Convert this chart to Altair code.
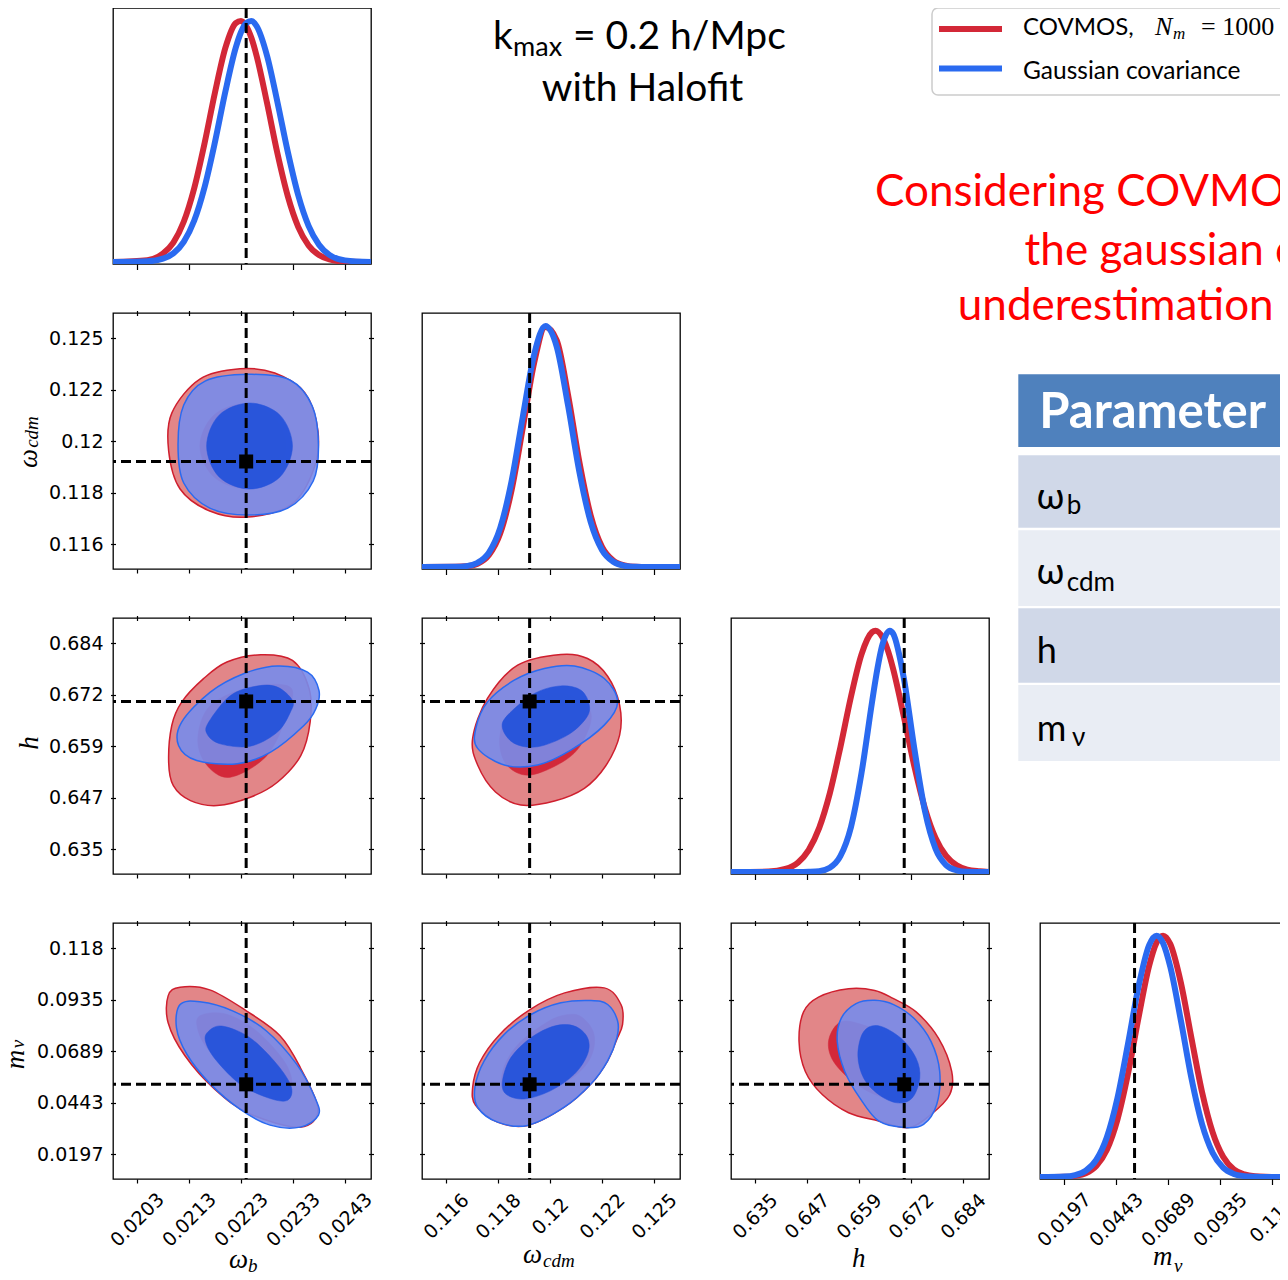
import altair as alt
import pandas as pd

# ---------------------------------------------------------------- axis ticks
TICKS_WB = [0.0203, 0.0213, 0.0223, 0.0233, 0.0243]
LABELS_WB = ["0.0203", "0.0213", "0.0223", "0.0233", "0.0243"]
TICKS_WCDM = [0.1156, 0.1179, 0.1202, 0.1225, 0.1248]
LABELS_WCDM = ["0.116", "0.118", "0.12", "0.122", "0.125"]
TICKS_H = [0.6348, 0.6471, 0.6594, 0.6717, 0.684]
LABELS_H = ["0.635", "0.647", "0.659", "0.672", "0.684"]
TICKS_MNU = [0.0197, 0.0443, 0.0689, 0.0935, 0.1181]
LABELS_MNU = ["0.0197", "0.0443", "0.0689", "0.0935", "0.118"]

# plotted ranges (horizontal use / vertical use)
XRANGE_WB = [0.01984, 0.0248]
XRANGE_WCDM = [0.11454, 0.12595]
XRANGE_H = [0.62914, 0.69015]
XRANGE_MNU = [0.00838, 0.1304]
YRANGE_WCDM = [0.1145, 0.12593]
YRANGE_H = [0.6289, 0.69003]
YRANGE_MNU = [0.00789, 0.13015]
YRANGE_1D = [-0.008, 1.0525]

# fiducial cosmology
FID_WB = 0.0224
FID_WCDM = 0.1193
FID_H = 0.6701
FID_MNU = 0.0531

# ---------------------------------------------------------------- 1D posteriors
WB_GRID = [0.01984, 0.0205, 0.0208, 0.0210, 0.0212, 0.0214, 0.0216, 0.0218, 0.0220, 0.0222, 0.0223, 0.0224,
           0.0225, 0.0226, 0.0228, 0.0230, 0.0232, 0.0234, 0.0236, 0.0238, 0.0240, 0.0243, 0.0248]
WB_COVMOS = [0, 0.008, 0.035, 0.081, 0.167, 0.305, 0.492, 0.702, 0.887, 0.990, 0.999, 0.978,
             0.929, 0.855, 0.660, 0.451, 0.273, 0.146, 0.069, 0.029, 0.011, 0.002, 0]
WB_GAUSS = [0, 0.003, 0.014, 0.036, 0.084, 0.171, 0.310, 0.497, 0.706, 0.888, 0.952, 0.990,
            0.999, 0.978, 0.856, 0.664, 0.457, 0.278, 0.150, 0.072, 0.030, 0.007, 0]

WCDM_GRID = [0.11454, 0.1160, 0.1165, 0.1170, 0.1175, 0.1180, 0.1185, 0.1190, 0.1195, 0.1200, 0.1205,
             0.1210, 0.1215, 0.1220, 0.1225, 0.1230, 0.1235, 0.1240, 0.1245, 0.12595]
WCDM_COVMOS = [0, 0.001, 0.003, 0.014, 0.050, 0.140, 0.318, 0.578, 0.846, 0.994, 0.939,
               0.713, 0.435, 0.214, 0.084, 0.027, 0.007, 0.001, 0, 0]
WCDM_GAUSS = [0, 0.001, 0.004, 0.018, 0.060, 0.162, 0.355, 0.624, 0.880, 0.999, 0.912,
              0.669, 0.394, 0.187, 0.071, 0.022, 0.005, 0.001, 0, 0]

H_GRID = [0.62914, 0.638, 0.642, 0.645, 0.6475, 0.650, 0.6525, 0.655, 0.6575, 0.660, 0.6625, 0.6633,
          0.665, 0.6667, 0.6675, 0.670, 0.6725, 0.675, 0.6775, 0.680, 0.6825, 0.685, 0.688, 0.69015]
H_COVMOS = [0, 0.002, 0.013, 0.040, 0.091, 0.183, 0.326, 0.517, 0.726, 0.902, 0.994, 1.0,
            0.971, 0.892, 0.840, 0.645, 0.438, 0.264, 0.141, 0.067, 0.028, 0.010, 0.003, 0]
H_GAUSS = [0, 0, 0, 0, 0.001, 0.004, 0.018, 0.066, 0.186, 0.410, 0.705, 0.795,
           0.945, 1.0, 0.987, 0.804, 0.511, 0.253, 0.097, 0.029, 0.007, 0.001, 0, 0]

MNU_GRID = [0.00838, 0.020, 0.025, 0.030, 0.035, 0.040, 0.045, 0.050, 0.055, 0.060, 0.0635, 0.0666,
            0.070, 0.075, 0.080, 0.085, 0.090, 0.095, 0.100, 0.105, 0.110, 0.115, 0.125, 0.1304]
MNU_COVMOS = [0, 0.001, 0.005, 0.016, 0.046, 0.113, 0.238, 0.428, 0.661, 0.875, 0.971, 1.0,
              0.965, 0.805, 0.576, 0.353, 0.186, 0.084, 0.032, 0.011, 0.003, 0.001, 0, 0]
MNU_GAUSS = [0, 0.002, 0.008, 0.026, 0.071, 0.165, 0.327, 0.552, 0.790, 0.961, 1.0, 0.969,
             0.871, 0.649, 0.410, 0.220, 0.101, 0.039, 0.013, 0.004, 0.001, 0, 0, 0]

# ---------------------------------------------------------------- 2D contours (68% / 95%)
# omega_b vs omega_cdm
WB_WCDM_RED95_X = [0.02228, 0.02295, 0.02353, 0.02378, 0.02370, 0.02328, 0.02243, 0.02170, 0.02113, 0.02091, 0.02097, 0.02151]
WB_WCDM_RED95_Y = [0.12344, 0.12325, 0.12236, 0.12066, 0.11896, 0.11740, 0.11682, 0.11709, 0.11807, 0.11977, 0.12146, 0.12298]
WB_WCDM_RED68_X = [0.02317, 0.02292, 0.02234, 0.02176, 0.02151, 0.02176, 0.02234, 0.02292]
WB_WCDM_RED68_Y = [0.11999, 0.12133, 0.12187, 0.12133, 0.11999, 0.11865, 0.11811, 0.11865]
WB_WCDM_BLUE95_X = [0.02379, 0.02367, 0.02324, 0.02244, 0.02161, 0.02120, 0.02109, 0.02120, 0.02170, 0.02244, 0.02320, 0.02369]
WB_WCDM_BLUE95_Y = [0.12005, 0.12178, 0.12294, 0.12319, 0.12289, 0.12182, 0.12005, 0.11834, 0.11722, 0.11691, 0.11722, 0.11843]
WB_WCDM_BLUE68_X = [0.02329, 0.02305, 0.02247, 0.02188, 0.02164, 0.02188, 0.02247, 0.02305]
WB_WCDM_BLUE68_Y = [0.11999, 0.12137, 0.12191, 0.12137, 0.11999, 0.11861, 0.11807, 0.11861]

# omega_b vs h
WB_H_RED95_X = [0.02268, 0.02329, 0.02361, 0.02363, 0.02345, 0.02300, 0.02248, 0.02184, 0.02133, 0.02100, 0.02091, 0.02097, 0.02116, 0.02158, 0.02203]
WB_H_RED95_Y = [0.68126, 0.67990, 0.67313, 0.66517, 0.65718, 0.65082, 0.64722, 0.64524, 0.64643, 0.65001, 0.65559, 0.66436, 0.66994, 0.67554, 0.67952]
WB_H_RED68_X = [0.02325, 0.02317, 0.02280, 0.02210, 0.02165, 0.02147, 0.02171, 0.02248]
WB_H_RED68_Y = [0.67351, 0.66660, 0.65718, 0.65201, 0.65480, 0.66119, 0.66915, 0.67351]
WB_H_BLUE95_X = [0.02380, 0.02358, 0.02300, 0.02235, 0.02171, 0.02116, 0.02110, 0.02145, 0.02223, 0.02287, 0.02351, 0.02374]
WB_H_BLUE95_Y = [0.67272, 0.67711, 0.67857, 0.67673, 0.67234, 0.66517, 0.65960, 0.65599, 0.65521, 0.65800, 0.66436, 0.66837]
WB_H_BLUE68_X = [0.02329, 0.02300, 0.02261, 0.02210, 0.02168, 0.02165, 0.02190, 0.02248, 0.02300, 0.02325]
WB_H_BLUE68_Y = [0.67035, 0.67353, 0.67378, 0.67153, 0.66517, 0.66231, 0.65998, 0.65942, 0.66278, 0.66755]

# omega_b vs m_nu
WB_MNU_RED95_X = [0.02113, 0.02170, 0.02241, 0.02305, 0.02344, 0.02378, 0.02344, 0.02247, 0.02180, 0.02122, 0.02090, 0.02090]
WB_MNU_RED95_Y = [0.09948, 0.09820, 0.08809, 0.07635, 0.06115, 0.04123, 0.03266, 0.03899, 0.05072, 0.06686, 0.08253, 0.09535]
WB_MNU_RED68_X = [0.02151, 0.02199, 0.02257, 0.02311, 0.02328, 0.02309, 0.02267, 0.02213, 0.02167, 0.02147]
WB_MNU_RED68_Y = [0.08585, 0.08681, 0.07921, 0.06496, 0.05404, 0.04929, 0.05166, 0.05879, 0.06971, 0.07921]
WB_MNU_BLUE95_X = [0.02113, 0.02151, 0.02215, 0.02279, 0.02337, 0.02372, 0.02379, 0.02344, 0.02286, 0.02228, 0.02170, 0.02126, 0.02106]
WB_MNU_BLUE95_Y = [0.09121, 0.09249, 0.08809, 0.07859, 0.06273, 0.04691, 0.03837, 0.03266, 0.03362, 0.04123, 0.05355, 0.06747, 0.08017]
WB_MNU_BLUE68_X = [0.02165, 0.02193, 0.02247, 0.02299, 0.02327, 0.02318, 0.02279, 0.02228, 0.02183, 0.02163]
WB_MNU_BLUE68_Y = [0.07778, 0.08095, 0.07539, 0.06273, 0.05166, 0.04533, 0.04691, 0.05323, 0.06435, 0.07257]

# omega_cdm vs h
WCDM_H_RED95_X = [0.12068, 0.12186, 0.12275, 0.12328, 0.12328, 0.12266, 0.12172, 0.12040, 0.11891, 0.11779, 0.11700, 0.11678, 0.11744, 0.11877]
WCDM_H_RED95_Y = [0.68131, 0.68035, 0.67613, 0.66922, 0.66207, 0.65468, 0.64936, 0.64634, 0.64538, 0.64848, 0.65492, 0.66135, 0.67089, 0.67876]
WCDM_H_RED68_X = [0.12200, 0.12169, 0.12089, 0.11934, 0.11833, 0.11797, 0.11833, 0.11952, 0.12098]
WCDM_H_RED68_Y = [0.66755, 0.66088, 0.65611, 0.65253, 0.65468, 0.66040, 0.66684, 0.67112, 0.67185]
WCDM_H_BLUE95_X = [0.12319, 0.12260, 0.12128, 0.11995, 0.11862, 0.11744, 0.11692, 0.11700, 0.11818, 0.11965, 0.12112, 0.12260]
WCDM_H_BLUE95_Y = [0.67000, 0.67559, 0.67857, 0.67797, 0.67518, 0.67000, 0.66367, 0.65890, 0.65492, 0.65492, 0.65849, 0.66445]
WCDM_H_BLUE68_X = [0.12194, 0.12157, 0.12068, 0.11951, 0.11833, 0.11810, 0.11862, 0.11965, 0.12098, 0.12179]
WCDM_H_BLUE68_Y = [0.66922, 0.67280, 0.67382, 0.67201, 0.66684, 0.66367, 0.66009, 0.65928, 0.66207, 0.66605]

# omega_cdm vs m_nu
WCDM_MNU_RED95_X = [0.12260, 0.12334, 0.12341, 0.12315, 0.12275, 0.12201, 0.12083, 0.11921, 0.11788, 0.11691, 0.11678, 0.11709, 0.11797, 0.11930, 0.12085]
WCDM_MNU_RED95_Y = [0.09916, 0.09122, 0.08172, 0.07446, 0.06435, 0.05323, 0.04216, 0.03348, 0.03505, 0.04312, 0.05166, 0.06354, 0.07682, 0.08870, 0.09677]
WCDM_MNU_RED68_X = [0.12151, 0.12213, 0.12204, 0.12133, 0.12009, 0.11886, 0.11810, 0.11819, 0.11886, 0.11996, 0.12071]
WCDM_MNU_RED68_Y = [0.08585, 0.07778, 0.06686, 0.05736, 0.05024, 0.04786, 0.05166, 0.06211, 0.07303, 0.08206, 0.08585]
WCDM_MNU_BLUE95_X = [0.12201, 0.12275, 0.12319, 0.12316, 0.12275, 0.12201, 0.12083, 0.11921, 0.11788, 0.11700, 0.11688, 0.11729, 0.11818, 0.11936, 0.12068]
WCDM_MNU_BLUE95_Y = [0.09313, 0.09122, 0.08334, 0.07539, 0.06435, 0.05323, 0.04216, 0.03348, 0.03505, 0.04216, 0.05166, 0.06435, 0.07697, 0.08646, 0.09202]
WCDM_MNU_BLUE68_X = [0.12128, 0.12186, 0.12186, 0.12128, 0.12024, 0.11906, 0.11825, 0.11810, 0.11847, 0.11936, 0.12039]
WCDM_MNU_BLUE68_Y = [0.08095, 0.07539, 0.06747, 0.05798, 0.05011, 0.04610, 0.04848, 0.05485, 0.06590, 0.07539, 0.08095]

# h vs m_nu
H_MNU_RED95_X = [0.65694, 0.66314, 0.66759, 0.67291, 0.67823, 0.68133, 0.68088, 0.67646, 0.67113, 0.66404, 0.65694, 0.65072, 0.64672, 0.64523, 0.64630, 0.64984]
H_MNU_RED95_Y = [0.09877, 0.09796, 0.09402, 0.08771, 0.07507, 0.05926, 0.04824, 0.03874, 0.03243, 0.03561, 0.03955, 0.04824, 0.05926, 0.07351, 0.08771, 0.09478]
H_MNU_RED68_X = [0.65517, 0.66049, 0.66759, 0.67201, 0.67291, 0.66936, 0.66314, 0.65694, 0.65294, 0.65233]
H_MNU_RED68_Y = [0.08296, 0.08139, 0.07507, 0.06401, 0.05294, 0.04663, 0.04824, 0.05613, 0.06558, 0.07507]
H_MNU_BLUE95_X = [0.66314, 0.66759, 0.67246, 0.67646, 0.67849, 0.67778, 0.67468, 0.67023, 0.66404, 0.65959, 0.65604, 0.65427, 0.65517, 0.65871]
H_MNU_BLUE95_Y = [0.09322, 0.09117, 0.08452, 0.07351, 0.05926, 0.04349, 0.03399, 0.03243, 0.03561, 0.04663, 0.05926, 0.07351, 0.08452, 0.09165]
H_MNU_BLUE68_X = [0.66404, 0.66936, 0.67291, 0.67378, 0.67201, 0.66846, 0.66404, 0.66049, 0.65914, 0.66049]
H_MNU_BLUE68_Y = [0.08106, 0.07507, 0.06558, 0.05613, 0.04663, 0.04425, 0.04824, 0.05613, 0.06719, 0.07821]

# ---------------------------------------------------------------- texts
LEGEND_COVMOS = "COVMOS,"
LEGEND_GAUSS = "Gaussian covariance"
TITLE_LINE2 = "with Halofit"
RED_LINES = ["Considering COVMOS instead of", "the gaussian covariance leads to an", "underestimation of the errors"]
TABLE_HEADER = "Parameter"

# ---------------------------------------------------------------- styles
RED_LINE = "#d32837"
BLUE_LINE = "#2a6af0"
RED_95 = "#e28688"
RED_EDGE = "#cf1f2e"
RED_68 = "#d3293a"
BLUE_95 = "#788ceb"
BLUE_EDGE = "#2a6af0"
BLUE_68 = "#2452da"
MATH = "Liberation Serif"
SLIDE = "Lato, 'Noto Sans', sans-serif"
W, H = 258, 256
FRAME = alt.ViewBackground(stroke="black", strokeWidth=1.3)
NOFRAME = alt.ViewBackground(stroke=None)
DUMMY = pd.DataFrame({"k": [0]})

P = {
    "wb": dict(ticks=TICKS_WB, labels=LABELS_WB, xr=XRANGE_WB, yr=None, fid=FID_WB),
    "wcdm": dict(ticks=TICKS_WCDM, labels=LABELS_WCDM, xr=XRANGE_WCDM, yr=YRANGE_WCDM, fid=FID_WCDM),
    "h": dict(ticks=TICKS_H, labels=LABELS_H, xr=XRANGE_H, yr=YRANGE_H, fid=FID_H),
    "mnu": dict(ticks=TICKS_MNU, labels=LABELS_MNU, xr=XRANGE_MNU, yr=YRANGE_MNU, fid=FID_MNU),
}


def lab_expr(p):
    labs = ",".join("'%s'" % s for s in P[p]["labels"])
    vals = ",".join(repr(t) for t in P[p]["ticks"])
    return "[" + labs + "][indexof([" + vals + "], datum.value)]"


def bottom_axis(p, show, tick, pad):
    return alt.Axis(orient="bottom", values=P[p]["ticks"], labelExpr=lab_expr(p), labels=show,
                    tickSize=tick, labelAngle=-45, labelAlign="center", labelBaseline="middle",
                    labelPadding=pad, labelFlush=False, labelOverlap=False, title=None)


def left_axis(p, show):
    return alt.Axis(orient="left", values=P[p]["ticks"], labelExpr=lab_expr(p), labels=show,
                    tickSize=5, offset=-2.5, labelPadding=7.5, labelFlush=False,
                    labelOverlap=False, title=None)


def side_axis(p, orient):
    return alt.Axis(orient=orient, values=P[p]["ticks"], labels=False, tickSize=5,
                    offset=-2.5, title=None)


def txt(s, x, y, size, font, style="normal", weight="normal", color="black",
        align="left", baseline="alphabetic", angle=0):
    return alt.Chart(DUMMY).mark_text(
        text=s, font=font, fontSize=size, fontStyle=style, fontWeight=weight, color=color,
        align=align, baseline=baseline, angle=angle).encode(x=alt.value(x), y=alt.value(y))


def box(x, x2, y, y2, fill, stroke=None, radius=0):
    kw = dict(fill=fill, cornerRadius=radius)
    if stroke:
        kw.update(stroke=stroke, strokeWidth=1.5)
    return alt.Chart(DUMMY).mark_rect(**kw).encode(
        x=alt.value(x), x2=alt.value(x2), y=alt.value(y), y2=alt.value(y2))


def contour(xs, ys, xsc, ysc, fill, fop, stroke, sw):
    df = pd.DataFrame({"x": xs, "y": ys, "i": list(range(len(xs)))})
    return alt.Chart(df).mark_line(
        interpolate="cardinal-closed", fill=fill, fillOpacity=fop, stroke=stroke, strokeWidth=sw
    ).encode(x=alt.X("x:Q", scale=xsc, axis=None), y=alt.Y("y:Q", scale=ysc, axis=None),
             order=alt.Order("i:Q"))


def panel2d(px, py, c, bottom, left, pad, extra):
    xsc = alt.Scale(domain=P[px]["xr"], nice=False, zero=False)
    ysc = alt.Scale(domain=P[py]["yr"], nice=False, zero=False)
    tdf = pd.DataFrame({"x": P[px]["ticks"], "y": P[py]["ticks"]})
    base = alt.Chart(tdf).mark_point(opacity=0).encode(
        x=alt.X("x:Q", scale=xsc, axis=bottom_axis(px, bottom, 4, pad)),
        y=alt.Y("y:Q", scale=ysc, axis=left_axis(py, left)))
    side = alt.Chart(tdf).mark_point(opacity=0).encode(
        x=alt.X("x:Q", scale=xsc, axis=side_axis(px, "top")),
        y=alt.Y("y:Q", scale=ysc, axis=side_axis(py, "right")))
    layers = [base, side,
              contour(c[0], c[1], xsc, ysc, RED_95, 1.0, RED_EDGE, 1.5),
              contour(c[2], c[3], xsc, ysc, RED_68, 1.0, RED_68, 0.5),
              contour(c[4], c[5], xsc, ysc, BLUE_95, 0.9, BLUE_EDGE, 1.5),
              contour(c[6], c[7], xsc, ysc, BLUE_68, 0.95, BLUE_68, 0.5)]
    fdf = pd.DataFrame({"x": [P[px]["fid"]], "y": [P[py]["fid"]]})
    layers.append(alt.Chart(fdf).mark_rule(color="black", strokeWidth=3, strokeDash=[10, 5]).encode(
        x=alt.X("x:Q", scale=xsc, axis=None)))
    layers.append(alt.Chart(fdf).mark_rule(color="black", strokeWidth=3, strokeDash=[10, 5]).encode(
        y=alt.Y("y:Q", scale=ysc, axis=None)))
    layers.append(alt.Chart(fdf).mark_square(size=196, color="black", opacity=1, filled=True).encode(
        x=alt.X("x:Q", scale=xsc, axis=None), y=alt.Y("y:Q", scale=ysc, axis=None)))
    layers += extra
    return alt.layer(*layers).resolve_axis(x="independent", y="independent").properties(
        width=W, height=H, view=FRAME)


def panel1d(p, grid, red, blue, bottom, pad, extra):
    xsc = alt.Scale(domain=P[p]["xr"], nice=False, zero=False)
    ysc = alt.Scale(domain=YRANGE_1D, nice=False, zero=False)
    df = pd.DataFrame({"x": grid, "covmos": red, "gauss": blue})
    base = alt.Chart(pd.DataFrame({"x": P[p]["ticks"]})).mark_point(opacity=0).encode(
        x=alt.X("x:Q", scale=xsc, axis=bottom_axis(p, bottom, 5.5, pad)))
    red_l = alt.Chart(df).mark_line(color=RED_LINE, strokeWidth=6, interpolate="monotone", clip=True).encode(
        x=alt.X("x:Q", scale=xsc, axis=None), y=alt.Y("covmos:Q", scale=ysc, axis=None))
    blue_l = alt.Chart(df).mark_line(color=BLUE_LINE, strokeWidth=6, interpolate="monotone", clip=True).encode(
        x=alt.X("x:Q", scale=xsc, axis=None), y=alt.Y("gauss:Q", scale=ysc, axis=None))
    fdf = pd.DataFrame({"x": [P[p]["fid"]]})
    rule = alt.Chart(fdf).mark_rule(color="black", strokeWidth=3, strokeDash=[10, 5]).encode(
        x=alt.X("x:Q", scale=xsc, axis=None))
    return alt.layer(base, red_l, blue_l, rule, *extra).resolve_axis(x="independent").properties(
        width=W, height=H, view=FRAME)


def blank(extra):
    empty = alt.Chart(DUMMY).mark_text(text="").encode(x=alt.value(0), y=alt.value(0))
    return alt.layer(empty, *extra).properties(width=W, height=H, view=NOFRAME)


C_WB_WCDM = [WB_WCDM_RED95_X, WB_WCDM_RED95_Y, WB_WCDM_RED68_X, WB_WCDM_RED68_Y,
             WB_WCDM_BLUE95_X, WB_WCDM_BLUE95_Y, WB_WCDM_BLUE68_X, WB_WCDM_BLUE68_Y]
C_WB_H = [WB_H_RED95_X, WB_H_RED95_Y, WB_H_RED68_X, WB_H_RED68_Y,
          WB_H_BLUE95_X, WB_H_BLUE95_Y, WB_H_BLUE68_X, WB_H_BLUE68_Y]
C_WB_MNU = [WB_MNU_RED95_X, WB_MNU_RED95_Y, WB_MNU_RED68_X, WB_MNU_RED68_Y,
            WB_MNU_BLUE95_X, WB_MNU_BLUE95_Y, WB_MNU_BLUE68_X, WB_MNU_BLUE68_Y]
C_WCDM_H = [WCDM_H_RED95_X, WCDM_H_RED95_Y, WCDM_H_RED68_X, WCDM_H_RED68_Y,
            WCDM_H_BLUE95_X, WCDM_H_BLUE95_Y, WCDM_H_BLUE68_X, WCDM_H_BLUE68_Y]
C_WCDM_MNU = [WCDM_MNU_RED95_X, WCDM_MNU_RED95_Y, WCDM_MNU_RED68_X, WCDM_MNU_RED68_Y,
              WCDM_MNU_BLUE95_X, WCDM_MNU_BLUE95_Y, WCDM_MNU_BLUE68_X, WCDM_MNU_BLUE68_Y]
C_H_MNU = [H_MNU_RED95_X, H_MNU_RED95_Y, H_MNU_RED68_X, H_MNU_RED68_Y,
           H_MNU_BLUE95_X, H_MNU_BLUE95_Y, H_MNU_BLUE68_X, H_MNU_BLUE68_Y]

# axis titles (math style)
YT_WCDM = [txt("ω", -84.5, 145.5, 27, MATH, "italic", align="center", baseline="middle", angle=270),
           txt("cdm", -81, 119, 19, MATH, "italic", align="center", baseline="middle", angle=270)]
YT_H = [txt("h", -83.5, 125, 27, MATH, "italic", align="center", baseline="middle", angle=270)]
YT_MNU = [txt("m", -97.5, 136.5, 27, MATH, "italic", align="center", baseline="middle", angle=270),
          txt("ν", -95, 121, 19, MATH, "italic", align="center", baseline="middle", angle=270)]
XT_WB = [txt("ω", 116, 345, 27, MATH, "italic"), txt("b", 135, 349, 19, MATH, "italic")]
XT_WCDM = [txt("ω", 101, 340, 27, MATH, "italic"), txt("cdm", 121, 344, 19, MATH, "italic")]
XT_H = [txt("h", 121, 344, 27, MATH, "italic")]
XT_MNU = [txt("m", 113, 342, 27, MATH, "italic"), txt("ν", 134, 349, 19, MATH, "italic")]

# title cell
TITLE = [txt("k", 71, 40.7, 39, SLIDE), txt("max", 91, 48, 27, SLIDE),
         txt("= 0.2 h/Mpc", 151, 40.7, 39, SLIDE),
         txt(TITLE_LINE2, 220.5, 93.3, 39, SLIDE, align="center")]

# legend + red message cell
LEGEND = [box(-108, 330, 0, 87, "white", "#cccccc", 6),
          alt.Chart(DUMMY).mark_rule(color=RED_LINE, strokeWidth=6).encode(
              x=alt.value(-101), x2=alt.value(-38), y=alt.value(21)),
          alt.Chart(DUMMY).mark_rule(color=BLUE_LINE, strokeWidth=6).encode(
              x=alt.value(-101), x2=alt.value(-38), y=alt.value(60.5)),
          txt(LEGEND_COVMOS, -17, 27.3, 24, SLIDE),
          txt("N", 115, 27.3, 26, MATH, "italic"),
          txt("m", 133, 31, 17, MATH, "italic"),
          txt("= 1000", 161, 27.3, 26, MATH),
          txt(LEGEND_GAUSS, -17, 71, 24.5, SLIDE),
          txt(RED_LINES[0], -165, 198.3, 44, SLIDE, color="#ff0000"),
          txt(RED_LINES[1], -15.4, 256.7, 44, SLIDE, color="#ff0000"),
          txt(RED_LINES[2], -82.2, 311.7, 44, SLIDE, color="#ff0000")]

# parameter table cell
TABLE = [box(-21.7, 400, 61.3, 134, "#4f81bd"),
         box(-21.7, 400, 142.3, 214.7, "#d0d8e8"),
         box(-21.7, 400, 217.3, 293, "#e9edf4"),
         box(-21.7, 400, 295.3, 369.7, "#d0d8e8"),
         box(-21.7, 400, 372, 448, "#e9edf4"),
         txt(TABLE_HEADER, -0.7, 114.7, 49, SLIDE, weight="bold", color="white"),
         txt("ω", -3.3, 196.3, 36, SLIDE), txt("b", 26.7, 201.3, 26, SLIDE),
         txt("ω", -3.3, 271.3, 36, SLIDE), txt("cdm", 26.7, 278, 26, SLIDE),
         txt("h", -3.3, 349.7, 36, SLIDE),
         txt("m", -3.3, 428, 36, SLIDE), txt("ν", 32, 433, 26, SLIDE)]

cells = [
    panel1d("wb", WB_GRID, WB_COVMOS, WB_GAUSS, False, 35, []),
    blank(TITLE), blank([]), blank(LEGEND),
    panel2d("wb", "wcdm", C_WB_WCDM, False, True, 36, YT_WCDM),
    panel1d("wcdm", WCDM_GRID, WCDM_COVMOS, WCDM_GAUSS, False, 33, []),
    blank([]), blank(TABLE),
    panel2d("wb", "h", C_WB_H, False, True, 36, YT_H),
    panel2d("wcdm", "h", C_WCDM_H, False, False, 33, []),
    panel1d("h", H_GRID, H_COVMOS, H_GAUSS, False, 33, []),
    blank([]),
    panel2d("wb", "mnu", C_WB_MNU, True, True, 36.5, YT_MNU + XT_WB),
    panel2d("wcdm", "mnu", C_WCDM_MNU, True, False, 33, XT_WCDM),
    panel2d("h", "mnu", C_H_MNU, True, False, 33, XT_H),
    panel1d("mnu", MNU_GRID, MNU_COVMOS, MNU_GAUSS, True, 35, XT_MNU),
]

chart = alt.concat(*cells, columns=4, spacing={"row": 49, "column": 51}, bounds="flush").properties(
    autosize=alt.AutoSizeParams(type="none"),
    padding={"left": 105, "top": 0, "right": 1167, "bottom": 1264},
).configure_view(stroke=None).configure_axis(
    labelFont="DejaVu Sans", labelFontSize=19, labelColor="black", tickColor="black",
    tickWidth=1.2, domain=False, grid=False)

chart.save("out.html", embed_options={"renderer": "svg", "actions": False})
